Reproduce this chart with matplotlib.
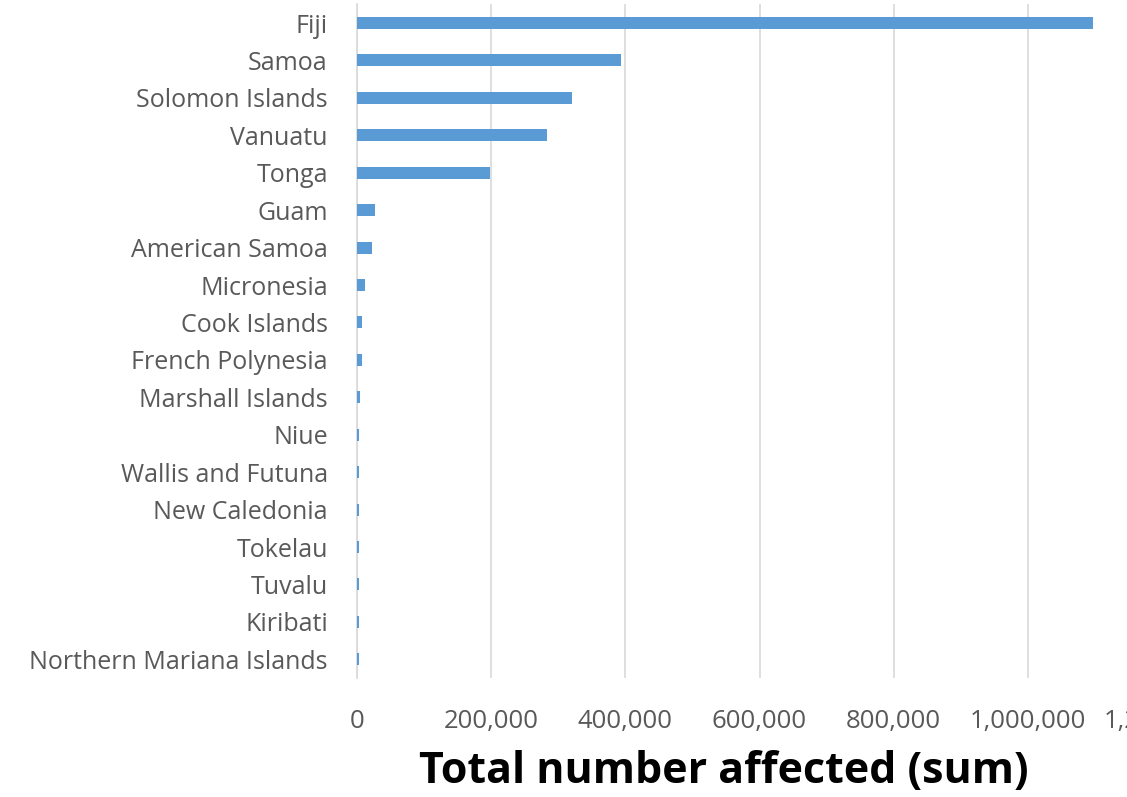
import matplotlib
matplotlib.use("Agg")
import matplotlib.pyplot as plt
from matplotlib.ticker import FuncFormatter

# Countries ordered top to bottom, as in the chart
COUNTRIES = [
    "Fiji", "Samoa", "Solomon Islands", "Vanuatu", "Tonga", "Guam",
    "American Samoa", "Micronesia", "Cook Islands", "French Polynesia",
    "Marshall Islands", "Niue", "Wallis and Futuna", "New Caledonia",
    "Tokelau", "Tuvalu", "Kiribati", "Northern Mariana Islands",
]
AFFECTED = [
    1097000, 394000, 320000, 283000, 198000, 27000,
    22000, 12000, 7500, 7000,
    4000, 3500, 3500, 3500,
    3500, 3500, 3500, 3500,
]
X_TICKS = [0, 200000, 400000, 600000, 800000, 1000000, 1200000]

BAR_COLOR = "#5B9BD5"
GRID_COLOR = "#D9D9D9"
TICK_COLOR = "#595959"

W, H = 1127, 797
fig = plt.figure(figsize=(W / 100, H / 100), dpi=100)

# axes extends past the right edge, like the cropped original
left, right, top, bottom = 357, 1162, 4.3, 678
ax = fig.add_axes([left / W, 1 - bottom / H, (right - left) / W, (bottom - top) / H])

y = list(range(len(COUNTRIES)))
ax.barh(y, AFFECTED, height=0.32, color=BAR_COLOR, zorder=3)

ax.set_ylim(len(COUNTRIES) - 0.5, -0.5)
ax.set_xlim(0, X_TICKS[-1])
ax.set_xticks(X_TICKS)
ax.xaxis.set_major_formatter(FuncFormatter(lambda v, _: f"{int(v):,}"))
ax.set_yticks(y)
ax.set_yticklabels(COUNTRIES)

ax.grid(axis="x", color=GRID_COLOR, linewidth=1.2, zorder=0)
for side in ("top", "right", "bottom"):
    ax.spines[side].set_visible(False)
ax.spines["left"].set_color(GRID_COLOR)
ax.spines["left"].set_linewidth(1.2)

ax.tick_params(axis="both", length=0, colors=TICK_COLOR)
ax.tick_params(axis="y", pad=21, labelsize=18)
ax.tick_params(axis="x", pad=22, labelsize=18.5)
for lbl in ax.get_xticklabels() + ax.get_yticklabels():
    lbl.set_family("Open Sans")

fig.text(724 / W, 1 - 772 / H, "Total number affected (sum)", ha="center", va="center",
         fontsize=31, fontweight="bold", family="Open Sans", color="black")

fig.savefig("out.png", dpi=100)
